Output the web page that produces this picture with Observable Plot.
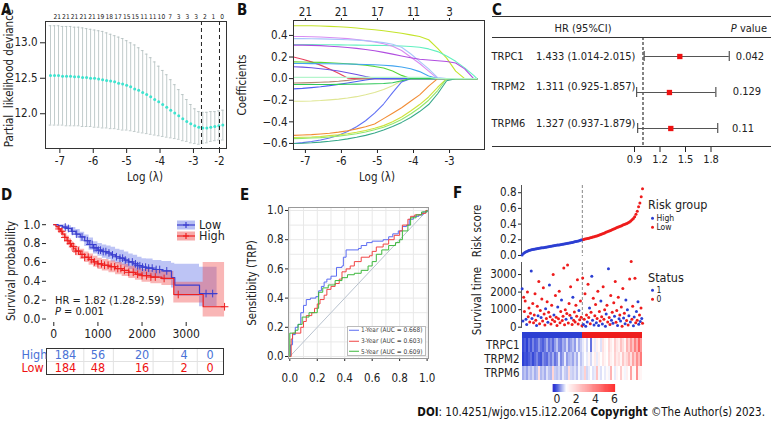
<!DOCTYPE html>
<html><head><meta charset="utf-8">
<script src="https://cdn.jsdelivr.net/npm/d3@7"></script>
<script src="https://cdn.jsdelivr.net/npm/@observablehq/plot@0.6"></script>
<style>
html,body{margin:0;padding:0;background:#fff;}
#fig{position:relative;width:771px;height:424px;overflow:hidden;background:#fff;font-family:"DejaVu Sans Condensed","DejaVu Sans",sans-serif;font-stretch:condensed;color:#222;}
#fig svg{overflow:visible;}
#fig svg, #fig svg text{font-stretch:condensed;}
.t{position:absolute;white-space:nowrap;line-height:1;}
</style></head><body><div id="fig"></div>
<script>
// ================= DATA =================
// Panel A: cross-validation curve
const aLogLambda = [-7.28,-7.16,-7.04,-6.92,-6.80,-6.68,-6.56,-6.44,-6.32,-6.20,-6.08,-5.96,-5.84,-5.72,-5.60,-5.48,-5.36,-5.24,-5.12,-5.00,-4.88,-4.76,-4.64,-4.52,-4.40,-4.28,-4.16,-4.04,-3.92,-3.80,-3.68,-3.56,-3.44,-3.32,-3.20,-3.08,-2.96,-2.84,-2.72,-2.60,-2.48,-2.36,-2.24,-2.12];
const aCvm  = [12.54,12.54,12.54,12.53,12.53,12.53,12.52,12.52,12.51,12.51,12.50,12.50,12.49,12.48,12.47,12.46,12.45,12.43,12.42,12.40,12.38,12.35,12.33,12.30,12.27,12.24,12.20,12.17,12.13,12.09,12.05,12.01,11.97,11.93,11.89,11.86,11.83,11.81,11.80,11.80,11.81,11.82,11.83,11.84];
const aCvUp = [13.24,13.24,13.24,13.23,13.23,13.23,13.22,13.22,13.21,13.20,13.19,13.18,13.17,13.16,13.14,13.12,13.10,13.08,13.06,13.03,13.00,12.97,12.93,12.89,12.84,12.79,12.73,12.67,12.61,12.55,12.48,12.41,12.34,12.27,12.20,12.13,12.07,12.03,12.02,12.02,12.03,12.03,12.04,12.05];
const aCvLo = [11.84,11.84,11.84,11.84,11.83,11.83,11.83,11.83,11.82,11.82,11.82,11.81,11.81,11.80,11.80,11.79,11.79,11.78,11.77,11.77,11.76,11.75,11.74,11.73,11.72,11.71,11.70,11.69,11.68,11.67,11.66,11.65,11.64,11.62,11.61,11.59,11.58,11.57,11.58,11.59,11.61,11.62,11.63,11.63];
const aTopX = [-7.08,-6.82,-6.56,-6.30,-6.04,-5.78,-5.52,-5.26,-5.00,-4.74,-4.48,-4.22,-3.96,-3.70,-3.44,-3.18,-2.92,-2.66,-2.40,-2.14];
const aTopNums = [21,21,21,21,21,19,18,17,15,15,11,11,10,7,3,3,3,2,1,0];
const aDashed = [-2.76,-2.22];
const aXTicks = [-7,-6,-5,-4,-3,-2.22];
const aXTickLabels = ["-7","-6","-5","-4","-3","-2"];
const aYTicks = [12.0,12.5,13.0];

// Panel B: coefficient paths
const bLambda = [-7.33,-7.08,-6.83,-6.58,-6.33,-6.08,-5.83,-5.58,-5.33,-5.08,-4.83,-4.58,-4.33,-4.08,-3.83,-3.58,-3.33,-3.08,-2.83,-2.58,-2.33,-2.24];
const bPath01 = [0.49,0.49,0.49,0.487,0.484,0.48,0.475,0.468,0.46,0.452,0.443,0.432,0.42,0.405,0.39,0.36,0.28,0.19,0.07,0,0,0];
const bPath02 = [0.315,0.315,0.315,0.314,0.313,0.312,0.311,0.31,0.309,0.308,0.306,0.304,0.302,0.298,0.29,0.275,0.25,0.21,0.16,0.1,0.03,0];
const bPath03 = [0.39,0.39,0.388,0.385,0.381,0.376,0.37,0.362,0.352,0.34,0.322,0.3,0.26,0.2,0.14,0.07,0,0,0,0,0,0];
const bPath04 = [0.37,0.37,0.369,0.368,0.366,0.363,0.36,0.356,0.35,0.343,0.333,0.318,0.29,0.23,0.16,0.09,0.01,0,0,0,0,0];
const bPath05 = [0.31,0.31,0.308,0.305,0.3,0.295,0.288,0.28,0.27,0.258,0.243,0.227,0.21,0.193,0.18,0.172,0.165,0.158,0.145,0.09,0,0];
const bPath06 = [0.2,0.18,0.155,0.125,0.09,0.05,0.005,0,0,0,0,0,0,0,0,0,0,0,0,0,0,0];
const bPath07 = [0.155,0.154,0.152,0.15,0.147,0.143,0.138,0.132,0.124,0.113,0.098,0.07,0.03,0,0,0,0,0,0,0,0,0];
const bPath08 = [0.14,0.14,0.139,0.138,0.137,0.136,0.135,0.133,0.131,0.128,0.124,0.118,0.108,0.092,0.065,0.025,0,0,0,0,0,0];
const bPath09 = [0.11,0.106,0.1,0.092,0.082,0.07,0.055,0.038,0.02,0.004,0,0,0,0,0,0,0,0,0,0,0,0];
const bPath10 = [0.012,0.012,0.012,0.012,0.012,0.012,0.012,0.012,0.012,0.012,0.012,0.012,0.012,0.012,0.012,0.012,0,0,0,0,0,0];
const bPath11 = [-0.04,-0.039,-0.037,-0.034,-0.03,-0.024,-0.016,-0.006,0,0,0,0,0,0,0,0,0,0,0,0,0,0];
const bPath12 = [-0.095,-0.09,-0.083,-0.075,-0.065,-0.053,-0.04,-0.026,-0.012,0,0,0,0,0,0,0,0,0,0,0,0,0];
const bPath13 = [-0.055,-0.055,-0.055,-0.054,-0.054,-0.053,-0.052,-0.051,-0.05,-0.048,-0.045,-0.038,-0.02,0,0,0,0,0,0,0,0,0];
const bPath14 = [-0.21,-0.209,-0.207,-0.203,-0.197,-0.19,-0.18,-0.167,-0.15,-0.128,-0.1,-0.065,-0.02,0,0,0,0,0,0,0,0,0];
const bPath15 = [-0.6,-0.592,-0.582,-0.568,-0.55,-0.525,-0.49,-0.445,-0.39,-0.32,-0.235,-0.13,-0.03,0,0,0,0,0,0,0,0,0];
const bPath16 = [-0.525,-0.522,-0.518,-0.512,-0.505,-0.495,-0.482,-0.465,-0.445,-0.42,-0.37,-0.32,-0.27,-0.21,-0.15,-0.07,0,0,0,0,0,0];
const bPath17 = [-0.545,-0.543,-0.54,-0.535,-0.528,-0.52,-0.51,-0.497,-0.48,-0.46,-0.435,-0.4,-0.355,-0.3,-0.24,-0.17,-0.08,0,0,0,0,0];
const bPath18 = [-0.555,-0.553,-0.55,-0.546,-0.54,-0.532,-0.522,-0.51,-0.494,-0.474,-0.45,-0.418,-0.378,-0.328,-0.27,-0.2,-0.11,0,0,0,0,0];
const bPath19 = [-0.6,-0.598,-0.594,-0.588,-0.58,-0.57,-0.558,-0.543,-0.525,-0.503,-0.476,-0.444,-0.405,-0.36,-0.305,-0.24,-0.14,-0.02,0,0,0,0];
const bPaths = [bPath01,bPath02,bPath03,bPath04,bPath05,bPath06,bPath07,bPath08,bPath09,bPath11,bPath12,bPath14,bPath15,bPath16,bPath17,bPath18,bPath19,bPath13,bPath10];
const bColors = ["#c4e42a","#62f0c0","#d98cf2","#a9c6fa","#b14ee0","#e8405e","#5ad636","#42a5f0","#6b50e3","#b58b73","#4e5ff2","#dfe693","#6272f5","#f28c34","#cfe23a","#93e86b","#38a98a","#30c85a","#b4f5cc"];
const bXTicks = [-7,-6,-5,-4,-3];
const bTopLabels = ["21","21","17","11","3"];
const bYTicks = [-0.6,-0.4,-0.2,0,0.2,0.4];

// Panel C: forest plot
const cGenes = ["TRPC1","TRPM2","TRPM6"];
const cHR = [1.433,1.311,1.327];
const cLow = [1.014,0.925,0.937];
const cHigh = [2.015,1.857,1.879];
const cP = ["0.042","0.129","0.11"];
const cTicks = [0.9,1.2,1.5,1.8];

// Panel D: Kaplan-Meier
const dBlueT = [0,100,200,300,400,500,600,700,800,900,1000,1100,1200,1300,1400,1500,1600,1700,1800,1900,2000,2100,2250,2450,2667,2742,3302,3700];
const dBlueS = [1.0,0.99,0.975,0.96,0.93,0.9,0.87,0.83,0.79,0.755,0.73,0.715,0.70,0.68,0.66,0.645,0.625,0.605,0.585,0.565,0.55,0.54,0.525,0.51,0.44,0.36,0.27,0.27];
const dBlueLo = [1.0,0.97,0.95,0.93,0.89,0.86,0.82,0.77,0.73,0.69,0.665,0.645,0.63,0.605,0.585,0.57,0.545,0.525,0.5,0.48,0.465,0.45,0.43,0.41,0.33,0.24,0.13,0.13];
const dBlueHi = [1.0,1.0,1.0,0.99,0.97,0.95,0.92,0.89,0.86,0.82,0.8,0.785,0.775,0.76,0.74,0.73,0.71,0.69,0.675,0.655,0.64,0.635,0.62,0.61,0.59,0.58,0.55,0.55];
const dRedT = [0,50,100,150,200,250,300,350,400,450,500,600,700,800,900,1000,1100,1250,1400,1550,1700,1850,2000,2200,2450,2720,3385,3870];
const dRedS = [1.0,0.98,0.955,0.93,0.9,0.865,0.83,0.80,0.77,0.745,0.72,0.685,0.655,0.63,0.605,0.585,0.57,0.555,0.535,0.515,0.495,0.475,0.46,0.445,0.43,0.26,0.13,0.13];
const dRedLo = [1.0,0.96,0.93,0.9,0.86,0.82,0.78,0.75,0.72,0.695,0.67,0.63,0.6,0.57,0.55,0.525,0.51,0.49,0.47,0.45,0.43,0.41,0.39,0.375,0.355,0.17,0.02,0.02];
const dRedHi = [1.0,1.0,0.98,0.96,0.94,0.91,0.88,0.85,0.82,0.795,0.77,0.74,0.71,0.69,0.665,0.645,0.63,0.615,0.6,0.58,0.56,0.54,0.525,0.515,0.505,0.39,0.6,0.6];
const dBlueCens = [260,330,420,520,640,760,820,870,910,960,1010,1060,1120,1180,1250,1330,1420,1500,1560,1620,1700,1780,1850,1900,1950,2010,2080,2150,2230,2320,2400,2560,3450,3600];
const dRedCens = [120,180,250,320,380,440,500,560,640,700,780,850,920,1000,1080,1150,1230,1300,1380,1450,1520,1600,1700,1800,1900,2000,2100,2200,2300,2500,2820,3870];
const dXTicks = [0,1000,2000,3000];
const dYTicks = [0,0.2,0.4,0.6,0.8,1.0];
const dTableGroups = ["High","Low"];
const dTableTimes = [265,1000,2000,2950,3540];
const dTableHigh = [184,56,20,4,0];
const dTableLow = [184,48,16,2,0];
const dTableGrid = [680,1350,2250,2700,3250];

// Panel E: ROC
const eFpr1 = [0,0.005,0.02,0.04,0.06,0.08,0.1,0.12,0.15,0.19,0.21,0.23,0.25,0.27,0.3,0.33,0.34,0.38,0.39,0.41,0.5,0.52,0.56,0.6,0.65,0.68,0.72,0.75,0.79,0.82,0.85,0.87,0.9,0.94,0.97,1];
const eTpr1 = [0,0.08,0.15,0.2,0.22,0.3,0.35,0.39,0.4,0.41,0.45,0.48,0.51,0.53,0.55,0.55,0.61,0.62,0.68,0.73,0.74,0.76,0.78,0.79,0.79,0.8,0.82,0.84,0.86,0.89,0.9,0.94,0.96,0.97,0.99,1];
const eFpr3 = [0,0.01,0.02,0.08,0.1,0.12,0.16,0.18,0.2,0.22,0.25,0.27,0.3,0.33,0.36,0.38,0.41,0.44,0.47,0.52,0.58,0.6,0.63,0.68,0.72,0.76,0.8,0.82,0.86,0.88,0.91,0.96,0.99,1];
const eTpr3 = [0,0.12,0.16,0.2,0.24,0.28,0.3,0.33,0.36,0.39,0.42,0.46,0.48,0.5,0.53,0.58,0.6,0.62,0.65,0.68,0.69,0.72,0.75,0.77,0.8,0.83,0.86,0.9,0.94,0.96,0.97,0.98,1,1];
const eFpr5 = [0,0,0.04,0.06,0.09,0.14,0.2,0.21,0.24,0.28,0.33,0.38,0.42,0.47,0.52,0.57,0.6,0.63,0.67,0.72,0.77,0.8,0.82,0.86,0.88,0.92,0.96,1];
const eTpr5 = [0,0.16,0.18,0.22,0.27,0.3,0.33,0.44,0.47,0.49,0.52,0.54,0.56,0.57,0.59,0.62,0.65,0.7,0.73,0.76,0.78,0.8,0.86,0.9,0.95,0.97,0.99,1];
const eLabels = ["1-Year (AUC = 0.668)","3-Year (AUC = 0.603)","5-Year (AUC = 0.609)"];
const eGrid = [0,0.1,0.2,0.3,0.4,0.5,0.6,0.7,0.8,0.9,1.0];
const eTicks = [0,0.2,0.4,0.6,0.8,1.0];

// Panel F: risk score, survival status, heatmap
const fGroupCounts = [184,184];
const fGroupNames = ["High","Low"];
const fRiskScores = [0.005,0.025,0.038,0.048,0.055,0.062,0.068,0.072,0.076,0.079,0.082,0.085,0.088,0.091,0.094,0.097,0.100,0.103,0.106,0.108,0.111,0.114,0.117,0.120,0.123,0.126,0.129,0.132,0.135,0.138,0.141,0.144,0.147,0.150,0.154,0.157,0.160,0.163,0.166,0.170,0.174,0.178,0.182,0.186,0.191,0.196,0.201,0.205,0.209,0.213,0.217,0.221,0.225,0.229,0.234,0.239,0.244,0.249,0.255,0.261,0.267,0.274,0.281,0.288,0.295,0.302,0.309,0.316,0.323,0.331,0.338,0.345,0.352,0.359,0.366,0.373,0.380,0.387,0.394,0.401,0.409,0.418,0.428,0.440,0.455,0.472,0.495,0.525,0.565,0.62,0.67,0.75,0.85];
const fSurvTimes = [2190,350,1700,900,1500,450,150,2000,600,1100,300,800,3200,500,1350,250,700,1900,400,100,1200,650,2600,200,950,550,1600,350,2250,750,120,1050,500,1450,280,850,2400,600,180,1250,420,3000,700,320,1800,560,90,1150,480,2050,260,900,1550,380,620,3380,140,1000,460,780,3550,240,1350,680,2300,520,160,1700,400,860,300,1250,620,2700,180,950,430,1500,560,80,
2800,150,450,1900,60,700,300,2450,550,1100,200,850,2900,400,1650,120,650,1300,250,500,2050,90,900,350,1500,600,180,2300,450,1000,50,750,1250,300,3330,550,150,1800,400,850,220,1400,620,2600,280,950,100,1700,480,700,350,1150,60,2200,520,800,200,1550,380,1000,130,650,2750,300,3740,450,1200,80,580,2790,250,900,400,1450,170,700,320,1100,500,220];
const fSurvStatus = [1,1,0,0,0,1,1,0,0,0,0,0,1,1,0,0,0,0,0,1,0,1,0,0,0,1,0,0,0,0,0,1,0,0,1,0,1,0,0,0,0,0,1,0,0,0,0,1,0,0,0,0,1,0,0,0,0,0,1,0,0,0,0,0,0,1,0,1,0,0,0,0,0,0,0,1,0,0,0,0,
0,1,0,0,1,0,1,0,0,1,0,0,1,1,0,1,0,0,1,0,0,1,0,0,1,0,1,0,0,0,1,1,0,0,1,0,0,0,1,0,1,0,1,0,0,0,1,0,1,0,1,0,0,0,1,0,1,1,0,1,0,1,0,1,0,0,0,1,1,0,0,1,0,1,1,0,1,0,1,0];
const fRiskTicks = [0,0.2,0.4,0.6,0.8];
const fSurvTicks = [0,1000,2000,3000];
const fGenes = ["TRPC1","TRPM2","TRPM6"];
const fHeatTRPC1 = [0.1,0.2,0.05,0.3,0.15,0.4,0.2,0.25,0.5,0.3,0.2,0.35,0.6,0.3,0.45,0.25,0.5,0.7,0.4,0.35,0.6,0.5,0.8,0.45,0.55,0.7,0.5,0.9,0.6,0.75,0.9,1.1,0.8,1.0,0.3,1.2,0.9,1.3,1.1,0.85,1.6,1.2,1.0,1.8,1.4,1.1,2.0,1.5,1.3,2.2,1.7,1.2,2.5,1.9,3.0,2.2,3.5,2.6,4.0,3.0];
const fHeatTRPM2 = [0.05,0.15,0.1,0.2,0.3,0.1,0.25,0.4,0.2,0.15,0.45,0.3,0.25,0.5,0.35,0.6,0.3,0.45,0.85,0.4,0.55,0.9,0.5,0.65,0.7,0.55,0.8,0.6,0.95,0.7,0.85,1.0,0.9,1.2,0.8,1.1,1.4,0.9,1.3,1.0,1.5,1.2,1.0,1.7,1.3,1.1,1.9,1.4,1.6,1.2,2.1,1.5,1.8,2.4,1.6,2.8,2.0,3.2,2.4,3.6];
const fHeatTRPM6 = [0.6,0.7,0.55,0.75,0.65,0.8,0.6,0.7,1.6,0.65,0.75,0.6,0.85,0.7,0.65,1.8,0.75,0.7,0.8,0.65,0.9,0.75,0.7,1.7,0.8,0.75,0.85,0.7,0.95,0.8,0.85,1.9,0.8,0.9,1.0,0.85,0.9,2.2,0.95,0.85,1.0,0.9,1.1,0.95,2.5,1.0,0.9,1.2,1.0,2.0,1.1,0.95,1.3,1.0,2.8,1.2,1.1,3.2,1.3,1.2];
const fColorTicks = [0,2,4,6];

// ================= HELPERS =================
const FIG = document.getElementById("fig");
const FONT = '"DejaVu Sans Condensed","DejaVu Sans",sans-serif';
const BLUE = "#2c3fd2", RED = "#ee1c1c";
const plain = d => String(d);
function place(el, x, y){ el.style.position = "absolute"; el.style.left = x + "px"; el.style.top = y + "px"; FIG.appendChild(el); return el; }
function st(size){ return {fontFamily: FONT, fontSize: size + "px", background: "none", color: "#222", overflow: "visible"}; }
function txt(html, x, y, o = {}){
  const d = document.createElement("div");
  d.className = "t";
  d.innerHTML = html;
  d.style.fontSize = (o.size || 11) + "px";
  d.style.color = o.color || "#222";
  if (o.bold) d.style.fontWeight = "bold";
  const ax = o.anchor === "middle" ? "-50%" : o.anchor === "end" ? "-100%" : "0";
  d.style.transform = o.rot ? "translate(-50%,-50%) rotate(-90deg)" : `translate(${ax},-50%)`;
  d.style.left = x + "px"; d.style.top = y + "px";
  FIG.appendChild(d);
  return d;
}

// ================= PANEL A =================
const aRows = aLogLambda.map((x, i) => ({x, m: aCvm[i], lo: aCvLo[i], hi: aCvUp[i]}));
const aLabelMap = new Map(aXTicks.map((t, i) => [t, aXTickLabels[i]]));
place(Plot.plot({
  width: 235, height: 190, marginLeft: 45, marginRight: 9, marginTop: 21, marginBottom: 42,
  style: st(11.5),
  x: {domain: [-7.43, -2.01], ticks: aXTicks, tickFormat: d => aLabelMap.get(d), tickSize: 5, tickPadding: 3, label: null},
  y: {domain: [11.51, 13.30], ticks: aYTicks, tickFormat: ".1f", tickSize: 5, tickPadding: 3, label: null},
  marks: [
    Plot.ruleX(aRows, {x: "x", y1: "lo", y2: "hi", stroke: "#b2bfbf", strokeWidth: 0.8}),
    Plot.ruleY(aRows, {y: "hi", x1: d => d.x - 0.04, x2: d => d.x + 0.04, stroke: "#b2bfbf", strokeWidth: 0.8}),
    Plot.ruleY(aRows, {y: "lo", x1: d => d.x - 0.04, x2: d => d.x + 0.04, stroke: "#b2bfbf", strokeWidth: 0.8}),
    Plot.dot(aRows, {x: "x", y: "m", r: 1.5, fill: "#3fe3cf"}),
    Plot.ruleX(aDashed, {stroke: "#222", strokeDasharray: "4,3"}),
    Plot.text(aTopNums, {x: (d, i) => aTopX[i], text: d => String(d), frameAnchor: "top", dy: -7, fontSize: 6.6}),
    Plot.frame({stroke: "#333"})
  ]
}), 0, 0);
txt("A", 1, 10, {size: 15, bold: true, color: "#111"});
txt("Partial &nbsp;likelihood deviance", 10, 78, {size: 11.5, rot: true});
txt("Log (λ)", 145, 178, {size: 11.5, anchor: "middle"});

// ================= PANEL B =================
const bRows = bPaths.flatMap((p, k) => p.map((v, i) => ({id: k, c: bColors[k], x: bLambda[i], y: v})));
const bTopMap = new Map(bXTicks.map((t, i) => [t, bTopLabels[i]]));
place(Plot.plot({
  width: 260, height: 190, marginLeft: 63, marginRight: 6, marginTop: 20, marginBottom: 41,
  style: st(11.5),
  color: {type: "identity"},
  x: {domain: [-7.33, -2.03], label: null},
  y: {domain: [-0.656, 0.538], label: null},
  marks: [
    Plot.axisX({anchor: "top", ticks: bXTicks, tickFormat: d => bTopMap.get(d), tickSize: 3, tickPadding: 2, label: null}),
    Plot.axisX({anchor: "bottom", ticks: bXTicks, tickFormat: plain, tickSize: 4, tickPadding: 3, label: null}),
    Plot.axisY({ticks: bYTicks, tickFormat: ".1f", tickSize: 4, tickPadding: 2, label: null}),
    Plot.line(bRows, {x: "x", y: "y", z: "id", stroke: "c", strokeWidth: 1.1}),
    Plot.frame({stroke: "#333"})
  ]
}), 230, 0);
txt("B", 237, 10, {size: 15, bold: true, color: "#111"});
txt("Coefficients", 243, 85, {size: 11.5, rot: true});
txt("Log (λ)", 377, 178, {size: 11.5, anchor: "middle"});

// ================= PANEL C =================
const cRows = cGenes.map((g, i) => ({g, hr: cHR[i], lo: cLow[i], hi: cHigh[i]}));
place(Plot.plot({
  width: 170, height: 170, marginLeft: 0, marginRight: 0, marginTop: 37, marginBottom: 23,
  style: st(11),
  x: {domain: [0.5, 2.5], ticks: cTicks, tickFormat: plain, tickSize: 5, tickPadding: 3, label: null},
  y: {type: "band", domain: cGenes, padding: 0, axis: null},
  marks: [
    Plot.ruleX([1], {stroke: "#333", strokeWidth: 1.2, strokeDasharray: "3,2"}),
    Plot.ruleY(cRows, {y: "g", x1: "lo", x2: "hi", stroke: "#555", strokeWidth: 1.2}),
    Plot.tickX(cRows, {x: "lo", y: "g", insetTop: 13, insetBottom: 13, stroke: "#555", strokeWidth: 1.2}),
    Plot.tickX(cRows, {x: "hi", y: "g", insetTop: 13, insetBottom: 13, stroke: "#555", strokeWidth: 1.2}),
    Plot.dot(cRows, {x: "hr", y: "g", symbol: "square", r: 3, fill: "#ee1111"})
  ]
}), 600, 0);
txt("C", 492, 10, {size: 15, bold: true, color: "#111"});
[16, 37, 146].forEach(y => { const l = document.createElement("div"); l.style.cssText = "height:1.3px;width:279px;background:#333"; place(l, 492, y); });
txt("HR (95%CI)", 583, 27.5, {size: 11, anchor: "middle"});
txt("<i>P</i> value", 767, 27.5, {size: 11, anchor: "end"});
const cLabelY = [55.7, 86, 123];
const cPY = [55.7, 91, 128];
const cPX = [750, 747, 743];
cGenes.forEach((g, i) => {
  txt(g, 491.5, cLabelY[i], {size: 11});
  txt(`${cHR[i].toFixed(3)} (${cLow[i].toFixed(3)}-${cHigh[i].toFixed(3)})`, 536, cLabelY[i], {size: 11});
  txt(cP[i], cPX[i], cPY[i], {size: 11, anchor: "middle"});
});

// ================= PANEL D =================
const dBlueLine = dBlueT.map((t, i) => ({t, s: dBlueS[i], lo: dBlueLo[i], hi: dBlueHi[i]}));
const dRedLine = dRedT.map((t, i) => ({t, s: dRedS[i], lo: dRedLo[i], hi: dRedHi[i]}));
const kmAt = (T, S, t) => { let v = S[0]; for (let i = 0; i < T.length; i++) if (T[i] <= t) v = S[i]; return v; };
const dBlueC = dBlueCens.map(t => ({t, s: kmAt(dBlueT, dBlueS, t)}));
const dRedC = dRedCens.map(t => ({t, s: kmAt(dRedT, dRedS, t)}));
const KB = "#3b3fcf", KR = "#ee2020";
place(Plot.plot({
  width: 235, height: 140, marginLeft: 46, marginRight: 10, marginTop: 15, marginBottom: 23,
  style: st(12),
  x: {domain: [-165, 3891], ticks: dXTicks, tickFormat: plain, tickSize: 4, tickPadding: 3, label: null},
  y: {domain: [-0.037, 1.0445], ticks: dYTicks, tickFormat: ".1f", tickSize: 4, tickPadding: 2, label: null},
  marks: [
    Plot.areaY(dBlueLine, {x: "t", y1: "lo", y2: "hi", curve: "step-after", fill: "#5a6be6", fillOpacity: 0.4}),
    Plot.areaY(dRedLine, {x: "t", y1: "lo", y2: "hi", curve: "step-after", fill: "#f04848", fillOpacity: 0.4}),
    Plot.line(dBlueLine, {x: "t", y: "s", curve: "step-after", stroke: KB, strokeWidth: 1.2}),
    Plot.line(dRedLine, {x: "t", y: "s", curve: "step-after", stroke: KR, strokeWidth: 1.2}),
    Plot.dot(dBlueC, {x: "t", y: "s", symbol: "plus", r: 2.6, stroke: KB, strokeWidth: 1}),
    Plot.dot(dRedC, {x: "t", y: "s", symbol: "plus", r: 2.6, stroke: KR, strokeWidth: 1})
  ]
}), 0, 205);
txt("D", 1, 195, {size: 15, bold: true, color: "#111"});
txt("Survival probability", 11.5, 271, {size: 11.5, rot: true});
const keySvg = (c, f) => `<svg width="18" height="10" style="display:block"><rect x="0" y="0.5" width="18" height="9" fill="${f}"/><line x1="0" y1="5" x2="18" y2="5" stroke="${c}" stroke-width="1.2"/><path d="M9,2V8M6,5H12" stroke="${c}" stroke-width="1.2"/></svg>`;
txt(keySvg(KB, "#b7bff3"), 177, 225, {size: 10});
txt(keySvg(KR, "#f7aaaa"), 177, 235.5, {size: 10});
txt("Low", 199, 225, {size: 12.5});
txt("High", 199, 236, {size: 12.5});
txt("HR = 1.82 (1.28-2.59)", 55, 299.5, {size: 11});
txt("<i>P</i> = 0.001", 55, 311, {size: 11});
const dTableRows = dTableTimes.flatMap((t, i) => [{t, g: "High", n: dTableHigh[i]}, {t, g: "Low", n: dTableLow[i]}]);
place(Plot.plot({
  width: 235, height: 40, marginLeft: 46, marginRight: 12, marginTop: 8, marginBottom: 6,
  style: st(12.5),
  color: {type: "identity"},
  x: {domain: [-165, 3845], axis: null},
  y: {type: "band", domain: dTableGroups, padding: 0, axis: null},
  marks: [
    Plot.ruleX(dTableGrid, {stroke: "#e2e2e2"}),
    Plot.ruleY(["Low"], {y: d => d, dy: -6.5, stroke: "#e2e2e2"}),
    Plot.text(dTableRows, {x: "t", y: "g", text: d => String(d.n), fill: d => d.g === "High" ? "#4a72d6" : "#ee1111", fontSize: 12.5}),
    Plot.frame({stroke: "#333"})
  ]
}), 0, 340);
txt("High", 21.5, 355, {size: 12.5, color: "#4a72d6"});
txt("Low", 21.5, 368, {size: 12.5, color: "#ee1111"});

// ================= PANEL E =================
const eRows = [[eFpr1, eTpr1, "#5b6cf2"], [eFpr3, eTpr3, "#f04444"], [eFpr5, eTpr5, "#3db83d"]]
  .flatMap(([X, Y, c], k) => X.map((x, i) => ({k, c, x, y: Y[i]})));
place(Plot.plot({
  width: 200, height: 195, marginLeft: 48, marginRight: 12, marginTop: 12, marginBottom: 32,
  style: st(11.5),
  color: {type: "identity"},
  x: {domain: [-0.0095, 1.0102], ticks: eTicks, tickFormat: ".1f", tickSize: 3, tickPadding: 12, label: null},
  y: {domain: [-0.0137, 1.0205], ticks: eTicks, tickFormat: ".1f", tickSize: 3, tickPadding: 2, label: null},
  marks: [
    Plot.ruleX(eGrid, {stroke: "#e8e8e8"}),
    Plot.ruleY(eGrid, {stroke: "#e8e8e8"}),
    Plot.link([{x1: eGrid[0], y1: eGrid[0], x2: eGrid[10], y2: eGrid[10]}], {x1: "x1", y1: "y1", x2: "x2", y2: "y2", stroke: "#b9c3cf", strokeWidth: 1}),
    Plot.line(eRows, {x: "x", y: "y", z: "k", stroke: "c", curve: "step-after", strokeWidth: 1}),
    Plot.frame({stroke: "#999"})
  ]
}), 240, 195);
txt("E", 240, 195, {size: 15, bold: true, color: "#111"});
txt("Sensitibity (TRP)", 253, 283, {size: 11.5, rot: true});
{
  const box = document.createElement("div");
  box.style.cssText = "width:79px;height:30px;background:#fff;border:1px solid #bbb;box-sizing:border-box";
  place(box, 347, 325.5);
  const ec = ["#5b6cf2", "#f04444", "#3db83d"];
  const ey = [330, 341, 351.5];
  eLabels.forEach((l, i) => {
    txt(`<span style="display:inline-block;width:10px;height:1px;background:${ec[i]};vertical-align:middle;margin-right:2px"></span>${l}`, 349, ey[i], {size: 6.5, color: "#444"});
  });
}

// ================= PANEL F =================
const N = fRiskScores.length;
const fRisk = fRiskScores.map((v, i) => { const r = i * 367 / (N - 1); return {r, v, g: r < fGroupCounts[0] ? "High" : "Low"}; });
const M = fSurvTimes.length;
const fSurv = fSurvTimes.map((t, i) => ({r: i * 367 / (M - 1), t, s: fSurvStatus[i]}));
const fCut = fGroupCounts[0] - 0.5;
const fXDomain = [-2, 370];
place(Plot.plot({
  width: 185, height: 82, marginLeft: 61, marginRight: 2, marginTop: 5, marginBottom: 6,
  style: st(11.5),
  color: {type: "identity"},
  x: {domain: fXDomain, axis: null},
  y: {domain: [-0.013, 0.892], ticks: fRiskTicks, tickFormat: ".1f", tickSize: 3, tickPadding: 2, label: null},
  marks: [
    Plot.ruleX([fXDomain[0]], {stroke: "#555"}),
    Plot.ruleX([fCut], {stroke: "#888", strokeDasharray: "3,2"}),
    Plot.dot(fRisk, {x: "r", y: "v", r: 1.5, fill: d => d.g === "High" ? BLUE : RED})
  ]
}), 460, 180);
place(Plot.plot({
  width: 185, height: 75, marginLeft: 61, marginRight: 2, marginTop: 4, marginBottom: 5,
  style: st(11.5),
  color: {type: "identity"},
  x: {domain: fXDomain, axis: null},
  y: {domain: [-74, 3687], ticks: fSurvTicks, tickFormat: plain, tickSize: 3, tickPadding: 2, label: null},
  marks: [
    Plot.ruleX([fXDomain[0]], {stroke: "#555"}),
    Plot.ruleX([fCut], {stroke: "#888", strokeDasharray: "3,2"}),
    Plot.dot(fSurv, {x: "r", y: "t", r: 1.5, fill: d => d.s === 1 ? BLUE : RED})
  ]
}), 460, 258);
const fGroupRows = [{x1: 0, x2: fGroupCounts[0], c: BLUE}, {x1: fGroupCounts[0], x2: fGroupCounts[0] + fGroupCounts[1], c: RED}];
place(Plot.plot({
  width: 185, height: 6, marginLeft: 62, marginRight: 3, marginTop: 0, marginBottom: 0,
  color: {type: "identity"},
  x: {domain: [0, fGroupCounts[0] + fGroupCounts[1]], axis: null},
  y: {domain: [0, 1], axis: null},
  marks: [Plot.rect(fGroupRows, {x1: "x1", x2: "x2", y1: 0, y2: 1, fill: "c"})]
}), 460, 331.5);
const heatColor = {type: "linear", domain: [0, 1, 6], range: ["#2136d4", "#ffffff", "#ff0000"], interpolate: "rgb"};
const fHeat = [fHeatTRPC1, fHeatTRPM2, fHeatTRPM6].flatMap((row, k) => row.map((v, j) => ({col: j, gene: fGenes[k], v})));
place(Plot.plot({
  width: 185, height: 42, marginLeft: 62, marginRight: 3, marginTop: 0, marginBottom: 0,
  style: st(11.5),
  color: heatColor,
  x: {type: "band", domain: d3.range(fHeatTRPC1.length), padding: 0, axis: null},
  y: {type: "band", domain: fGenes, padding: 0, tickSize: 0, tickPadding: 3, label: null},
  marks: [Plot.cell(fHeat, {x: "col", y: "gene", fill: "v", inset: 0})]
}), 460, 338);
const cbSteps = d3.range(-0.4, 6.1, 0.05);
place(Plot.plot({
  width: 90, height: 24, marginLeft: 12.7, marginRight: 15, marginTop: 1, marginBottom: 15,
  style: st(12),
  color: heatColor,
  x: {domain: [-0.4, 6.1], ticks: fColorTicks, tickFormat: plain, tickSize: 0, tickPadding: 2, label: null},
  y: {domain: [0, 1], axis: null},
  marks: [Plot.rect(cbSteps, {x1: d => d, x2: d => d + 0.06, y1: 0, y2: 1, fill: d => d})]
}), 540, 383);
txt("F", 453, 193, {size: 15, bold: true, color: "#111"});
txt("Risk score", 478, 231, {size: 11.5, rot: true});
txt("Survival time", 478, 300.5, {size: 11.5, rot: true});
const dotHtml = c => `<span style="display:inline-block;width:3px;height:3px;border-radius:50%;background:${c};vertical-align:middle;margin-right:3px"></span>`;
txt("Risk group", 648, 205, {size: 12.5});
txt(dotHtml(BLUE) + fGroupNames[0], 650.5, 218.3, {size: 8.5});
txt(dotHtml(RED) + fGroupNames[1], 650.5, 227.3, {size: 8.5});
txt("Status", 648, 277.7, {size: 12.5});
txt(dotHtml(BLUE) + "1", 650.5, 290, {size: 8.5});
txt(dotHtml(RED) + "0", 650.5, 299.3, {size: 8.5});

// ================= CAPTION =================
txt("<b>DOI</b>: 10.4251/wjgo.v15.i12.2064 <b>Copyright</b> ©The Author(s) 2023.", 765, 413, {size: 11.5, anchor: "end", color: "#111"});
</script></body></html>
